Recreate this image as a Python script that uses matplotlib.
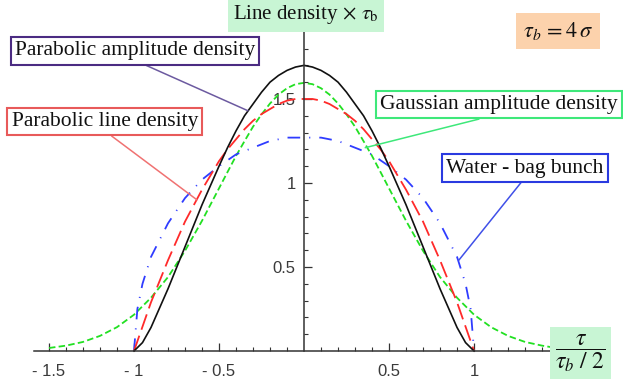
import matplotlib
matplotlib.use("Agg")
import matplotlib.pyplot as plt

# values (x = tau / (tau_b/2), y = line density * tau_b)
x_par_amp = [-1.0, -0.95, -0.9, -0.8, -0.7, -0.6, -0.5, -0.45, -0.4, -0.35, -0.3, -0.25,
             -0.2, -0.15, -0.1, -0.05, 0.0, 0.05, 0.1, 0.15, 0.2, 0.25, 0.3, 0.35, 0.4,
             0.45, 0.5, 0.6, 0.7, 0.8, 0.9, 0.95, 1.0]
y_par_amp = [0.0, 0.05, 0.14, 0.37, 0.62, 0.87, 1.10, 1.21, 1.31, 1.40, 1.47, 1.54,
             1.60, 1.64, 1.67, 1.69, 1.70, 1.69, 1.67, 1.64, 1.60, 1.54, 1.47, 1.40, 1.31,
             1.21, 1.10, 0.87, 0.62, 0.37, 0.14, 0.05, 0.0]

x_par_line = [-1.0, -0.9, -0.8, -0.7, -0.6, -0.5, -0.45, -0.4, -0.35, -0.3, -0.25, -0.2,
              -0.15, -0.1, -0.05, 0.0, 0.05, 0.1, 0.15, 0.2, 0.25, 0.3, 0.35, 0.4, 0.45,
              0.5, 0.6, 0.7, 0.8, 0.9, 1.0]
y_par_line = [0.0, 0.29, 0.54, 0.77, 0.96, 1.13, 1.20, 1.26, 1.32, 1.37, 1.41, 1.44,
              1.47, 1.49, 1.50, 1.50, 1.50, 1.49, 1.47, 1.44, 1.41, 1.37, 1.32, 1.26, 1.20,
              1.13, 0.96, 0.77, 0.54, 0.29, 0.0]

x_water = [-1.0, -0.98, -0.95, -0.9, -0.8, -0.7, -0.6, -0.5, -0.4, -0.35, -0.3, -0.25,
           -0.2, -0.15, -0.1, 0.0, 0.1, 0.15, 0.2, 0.25, 0.3, 0.35, 0.4, 0.5, 0.6, 0.7,
           0.8, 0.9, 0.95, 0.98, 1.0]
y_water = [0.0, 0.25, 0.40, 0.56, 0.76, 0.91, 1.02, 1.10, 1.17, 1.19, 1.21, 1.23,
           1.25, 1.26, 1.27, 1.27, 1.27, 1.26, 1.25, 1.23, 1.21, 1.19, 1.17, 1.10, 1.02,
           0.91, 0.76, 0.56, 0.40, 0.25, 0.0]

x_gauss = [-1.5, -1.4, -1.3, -1.2, -1.1, -1.0, -0.9, -0.8, -0.7, -0.6, -0.5, -0.45, -0.4,
           -0.35, -0.3, -0.25, -0.2, -0.15, -0.1, -0.05, 0.0, 0.05, 0.1, 0.15, 0.2, 0.25,
           0.3, 0.35, 0.4, 0.45, 0.5, 0.6, 0.7, 0.8, 0.9, 1.0, 1.1, 1.2, 1.3, 1.4, 1.46]
y_gauss = [0.018, 0.032, 0.054, 0.090, 0.142, 0.216, 0.317, 0.440, 0.596, 0.775, 0.968,
           1.065, 1.161, 1.249, 1.335, 1.408, 1.473, 1.526, 1.564, 1.588, 1.596, 1.588,
           1.564, 1.526, 1.473, 1.408, 1.335, 1.249, 1.161, 1.065, 0.968, 0.775, 0.596,
           0.440, 0.317, 0.216, 0.142, 0.090, 0.054, 0.032, 0.022]

xtick_vals = [-1.5, -1, -0.5, 0.5, 1]
xtick_text = ["- 1.5", "- 1", "- 0.5", "0.5", "1"]
ytick_vals = [0.5, 1, 1.5]
ytick_text = ["0.5", "1", "1.5"]

BLACK, RED, GREEN, BLUE = "#111111", "#ff2a2a", "#22e022", "#2f3cff"
SERIF = "Liberation Serif"
TICK = "#3a3a3a"

plt.rcParams["mathtext.fontset"] = "stix"

fig = plt.figure(figsize=(6.23, 3.90), dpi=100)
ax = fig.add_axes([0, 0, 1, 1])
ax.set_xlim(-1.788, 1.876)
ax.set_ylim(-0.232, 2.089)
ax.patch.set_alpha(0)

for side in ("top", "right"):
    ax.spines[side].set_visible(False)
ax.spines["left"].set_position(("data", 0))
ax.spines["bottom"].set_position(("data", 0))
ax.spines["bottom"].set_bounds(-1.59, 1.48)
ax.spines["left"].set_bounds(0, 1.9)
for side in ("left", "bottom"):
    ax.spines[side].set_color("#333333")
    ax.spines[side].set_linewidth(1.1)

ax.set_xticks(xtick_vals)
ax.set_xticklabels(xtick_text)
ax.set_xticks([i / 10 for i in range(-15, 15) if i % 5], minor=True)
ax.set_yticks(ytick_vals)
ax.set_yticklabels(ytick_text)
ax.set_yticks([i / 10 for i in range(1, 19) if i % 5], minor=True)
ax.tick_params(which="major", direction="in", length=6, width=0.9, color="#333333",
               labelcolor=TICK, labelsize=12)
ax.tick_params(which="minor", direction="in", length=3, width=0.8, color="#333333")
ax.tick_params(axis="x", pad=9)
ax.tick_params(axis="y", pad=6)
for lab in ax.get_xticklabels() + ax.get_yticklabels():
    lab.set_family("Liberation Sans")

ax.plot(x_gauss, y_gauss, color=GREEN, lw=1.3, linestyle=(0, (3.6, 1.8)))
ax.plot(x_water, y_water, color=BLUE, lw=1.3, linestyle=(0, (7, 5, 0.6, 5)))
ax.plot(x_par_line, y_par_line, color=RED, lw=1.3, linestyle=(0, (9, 3.5)))
ax.plot(x_par_amp, y_par_amp, color=BLACK, lw=1.2)

def label_box(text, xy, xytext, edge, line):
    ax.annotate(text, xy=xy, xytext=xytext, ha="center", va="center",
                family=SERIF, fontsize=15.5, color="#111111",
                bbox=dict(boxstyle="square,pad=0.2", fc="white", ec=edge, lw=1.5),
                arrowprops=dict(arrowstyle="-", color=line, lw=1.1, relpos=(0.5, 0),
                                shrinkA=0, shrinkB=0))

label_box("Parabolic amplitude density", (-0.33, 1.43), (-0.994, 1.786), "#4b2b82", "#6c5aa0")
label_box("Parabolic line density", (-0.63, 0.90), (-1.171, 1.366), "#e85a5a", "#f07272")
label_box("Gaussian amplitude density", (0.36, 1.21), (1.147, 1.467), "#3ee87a", "#3ee87a")
label_box("Water - bag bunch", (0.91, 0.54), (1.30, 1.089), "#2a3ae0", "#4050e8")

ax.text(0.012, 2.00, r"Line density$\,\times\,\tau_{\mathrm{b}}$", ha="center", va="center",
        family=SERIF, fontsize=15, color="#111111",
        bbox=dict(boxstyle="square,pad=0.25", fc="#c8f5d4", ec="none"))
ax.text(1.494, 1.905, r"$\tau_b\,=4\,\sigma$", ha="center", va="center",
        fontsize=16, color="#111111",
        bbox=dict(boxstyle="square,pad=0.3", fc="#fcd2ac", ec="none"))
ax.text(1.624, -0.012, r"$\dfrac{\tau}{\tau_b\ /\ 2}$", ha="center", va="center",
        fontsize=17, color="#111111",
        bbox=dict(boxstyle="square,pad=0.22", fc="#c8f5d4", ec="none"))

fig.savefig("out.png", dpi=100)
